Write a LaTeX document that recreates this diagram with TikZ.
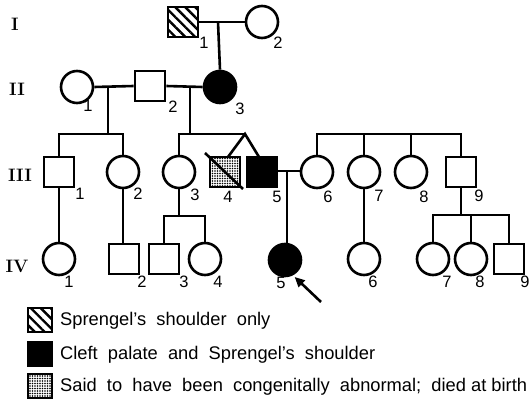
\documentclass[tikz,border=0pt]{standalone}
\usepackage{fontspec}
\setsansfont{Liberation Sans}
\usetikzlibrary{patterns.meta,arrows.meta,calc}
\begin{document}
\begin{tikzpicture}[x=1pt,y=-1pt,
  lw/.style={line width=2.6pt},
  male/.style={draw,lw,rectangle,minimum size=30pt,inner sep=0pt,fill=white},
  female/.style={draw,lw,circle,minimum size=32pt,inner sep=0pt,fill=white},
  aff/.style={fill=black},
  hatch/.style={pattern={Lines[angle=-45,distance=7pt,line width=2.4pt]}},
  stip/.style={pattern={Dots[radius=0.85pt,distance=2.5pt]}},
  num/.style={font=\sffamily\fontsize{16.5}{16.5}\selectfont,inner sep=0pt},
  gen/.style={font=\rmfamily\fontsize{18}{18}\selectfont\bfseries,inner sep=0pt},
  legtxt/.style={font=\sffamily\fontsize{18.3}{18.3}\selectfont,inner sep=0pt,anchor=west},
  legbox/.style={draw,lw,rectangle,minimum size=24pt,inner sep=0pt},
  conn/.style={lw}]
\useasboundingbox (0,0) rectangle (531,406);

% generation labels
\node[gen] (gI) at (15,24) {I};
\node[gen] (gII) at (17,89) {II};
\node[gen] (gIII) at (20,175) {III};
\node[gen] (gIV) at (17,266) {IV};

% Generation I
\node[male,hatch] (I1) at (183,22) {};
\node[female] (I2) at (262,22) {};
% Generation II
\node[female] (II1) at (77,87) {};
\node[male] (II2) at (150,86) {};
\node[female,aff] (II3) at (220,87) {};
% Generation III
\node[male] (III1) at (59,172) {};
\node[female] (III2) at (123,172) {};
\node[female] (III3) at (179,172) {};
\node[male,stip] (III4) at (225,172) {};
\node[male,aff] (III5) at (262,172) {};
\node[female] (III6) at (317,172) {};
\node[female] (III7) at (364,172) {};
\node[female] (III8) at (411,172) {};
\node[male] (III9) at (461,172) {};
% Generation IV
\node[female] (IV1) at (59,259) {};
\node[male] (IV2) at (124,259) {};
\node[male] (IV3) at (164,259) {};
\node[female] (IV4) at (205,259) {};
\node[female,aff] (IV5) at (285,260) {};
\node[female] (IV6) at (364,259) {};
\node[female] (IV7) at (433,259) {};
\node[female] (IV8) at (471,259) {};
\node[male] (IV9) at (509,259) {};

% slash on III4
\coordinate (d1) at (205,153);
\coordinate (d2) at (243,189);
\draw[conn] (d1) -- (d2);

% connectors
\coordinate (m1) at (218,22);
\draw[conn] (I1.east) -- (I2.west);
\draw[conn] (m1) -- (II3.north);

\coordinate (m2) at (108,87);
\coordinate (s2) at (108,134);
\draw[conn] (II1.east) -- (II2.west);
\draw[conn] (m2) -- (s2);
\draw[conn] (III1.north) |- (III2.north |- s2) -- (III2.north);

\coordinate (m3) at (190,87);
\coordinate (s3) at (190,134);
\coordinate (apex) at (245,134);
\coordinate (t4) at (228,157);
\coordinate (t5) at (259,157);
\draw[conn] (II2.east) -- (II3.west);
\draw[conn] (m3) -- (s3);
\draw[conn] (III3.north) |- (apex);
\draw[conn] (t4) -- (apex) -- (t5);

\coordinate (m5) at (287,171);
\draw[conn] (III5.east |- m5) -- (III6.west |- m5);
\draw[conn] (m5) -- (IV5.north -| m5);

\coordinate (s6) at (317,134);
\draw[conn] (III6.north) -- (s6) -| (III9.north);
\draw[conn] (III7.north |- s6) -- (III7.north);
\draw[conn] (III8.north |- s6) -- (III8.north);

\draw[conn] (III1.south) -- (IV1.north);
\draw[conn] (III2.south) -- (III2.south |- IV2.north);

\coordinate (s33) at (179,216);
\draw[conn] (III3.south) -- (s33);
\draw[conn] (IV3.north) |- (s33) -| (IV4.north);

\draw[conn] (III7.south) -- (IV6.north);

\coordinate (s9) at (461,215);
\draw[conn] (III9.south) -- (s9);
\draw[conn] (IV7.north) |- (s9) -| (IV9.north);
\draw[conn] (IV8.north |- s9) -- (IV8.north);

% arrow
\coordinate (arrtail) at (321,302);
\draw[lw,-{Triangle[length=10pt,width=9pt]}] (arrtail) -- ($(IV5.-60)+(1,2)$);

% numbers
\node[num] at (204,43) {1};
\node[num] at (278,43) {2};
\node[num] at (88,106) {1};
\node[num] at (173,107) {2};
\node[num] at (240,109) {3};
\node[num] at (80,194) {1};
\node[num] at (138,194) {2};
\node[num] at (195,195) {3};
\node[num] at (228,197) {4};
\node[num] at (277,197) {5};
\node[num] at (328,197) {6};
\node[num] at (379,196) {7};
\node[num] at (424,197) {8};
\node[num] at (479,196) {9};
\node[num] at (69,282) {1};
\node[num] at (142,282) {2};
\node[num] at (184,282) {3};
\node[num] at (218,282) {4};
\node[num] at (281,283) {5};
\node[num] at (373,282) {6};
\node[num] at (447,282) {7};
\node[num] at (480,282) {8};
\node[num] at (525,282) {9};

% legend
\node[legbox,hatch] (L1) at (40,320) {};
\node[legbox,fill=black] (L2) at (40,354) {};
\node[legbox,stip] (L3) at (40,386) {};
\node[legtxt] (T1) at (60,321) {Sprengel's\ \ shoulder\ \ only};
\node[legtxt] (T2) at (60,355) {Cleft\ \ palate\ \ and\ \ Sprengel's\ \ shoulder};
\node[legtxt] (T3) at (60,387) {Said\ \ to\ \ have\ \ been\ \ congenitally\ \ abnormal;\ \ died\ at\ birth};
\end{tikzpicture}
\end{document}
